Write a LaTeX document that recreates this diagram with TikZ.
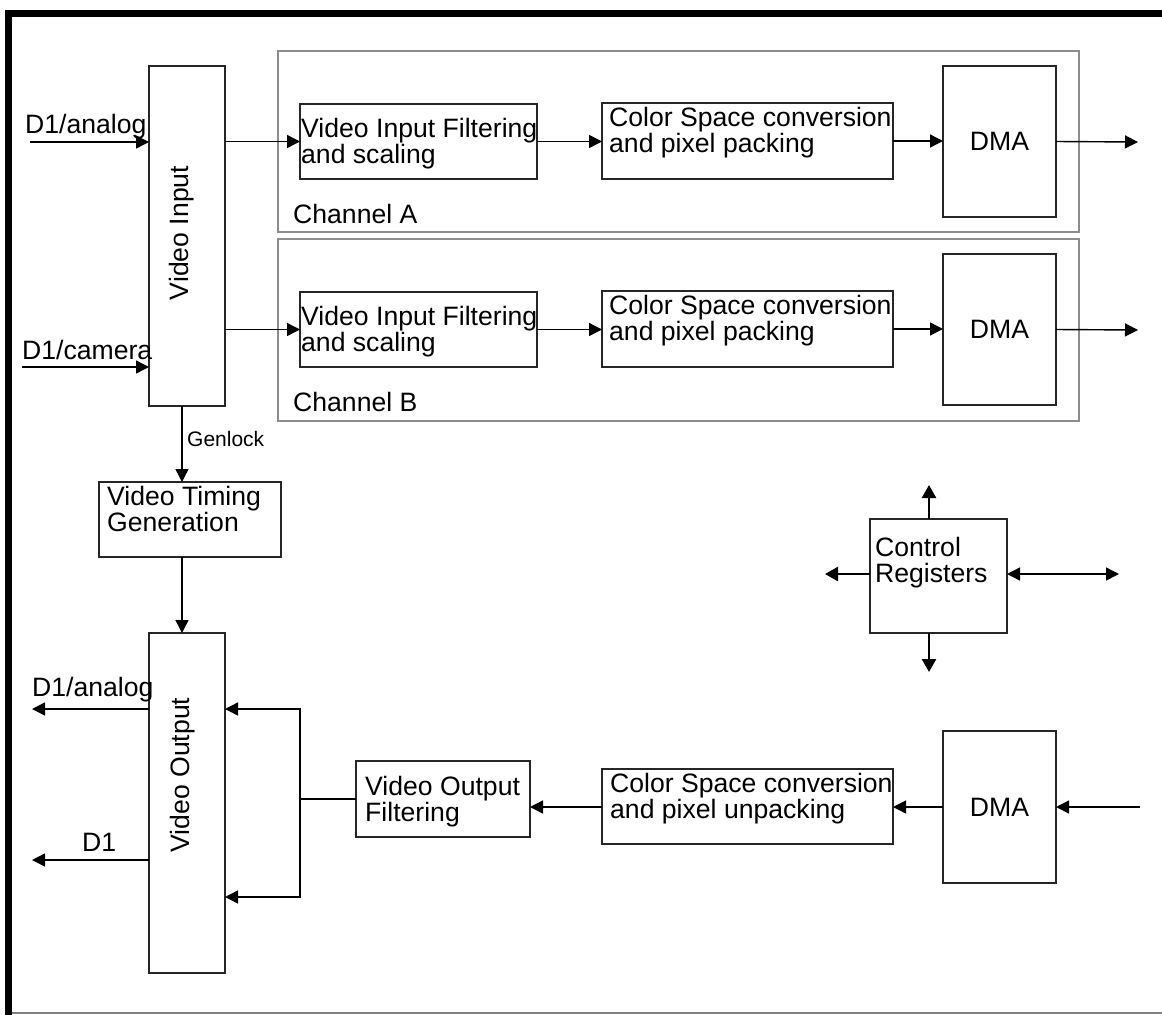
\documentclass[tikz,border=0pt]{standalone}
\usepackage{fontspec}
\setmainfont{Liberation Sans}
\usetikzlibrary{arrows.meta,calc}
\begin{document}
\begin{tikzpicture}[x=1pt,y=-1pt,
  font=\fontsize{26.6}{26.5}\selectfont,
  box/.style={draw=black!85,line width=1.4pt,anchor=north west,inner sep=0pt,outer sep=0pt},
  chan/.style={draw=black!45,line width=1.4pt},
  txt/.style={anchor=north west,inner sep=0pt,align=left},
  lbl/.style={anchor=base west,inner sep=0pt},
  conn/.style={line width=1.4pt,-{Triangle[length=13pt,width=13pt]}},
  plain/.style={line width=1.4pt},
  bold/.style={line width=2.6pt,-{Triangle[length=13pt,width=14pt]}},
  dbl/.style={line width=1.4pt,{Triangle[length=13pt,width=13pt]}-{Triangle[length=13pt,width=13pt]}}
]
\useasboundingbox (0,0) rectangle (1162,1015);
% frame
\draw[line width=7.5pt,line join=miter] (8.5,1015) -- (8.5,13.5) -- (1162,13.5);
\draw[black!50,line width=1.5pt] (12,1013) -- (1162,1013);

% channel frames
\draw[chan] (278,51) rectangle (1079,232);
\draw[chan] (278,239) rectangle (1079,421);

% video input
\node[box,minimum width=76pt,minimum height=340pt] (vin) at (149,66) {};
\node[rotate=90,anchor=base,inner sep=0pt] (vint) at (188,233) {Video Input};

% channel A
\node[box,minimum width=237pt,minimum height=75pt] (fa) at (300,104) {};
\node[txt] (fat) at (301,118) {Video Input Filtering\\and scaling};
\node[box,minimum width=291pt,minimum height=76pt] (ca) at (602,103) {};
\node[txt] (cat) at (609,107) {Color Space conversion\\and pixel packing};
\node[box,minimum width=113pt,minimum height=151pt] (dA) at (943,66) {DMA};
\node[lbl] (chA) at (293,223) {Channel A};

% channel B
\node[box,minimum width=237pt,minimum height=75pt] (fb) at (300,292) {};
\node[txt] (fbt) at (301,306) {Video Input Filtering\\and scaling};
\node[box,minimum width=291pt,minimum height=76pt] (cb) at (602,291) {};
\node[txt] (cbt) at (609,295) {Color Space conversion\\and pixel packing};
\node[box,minimum width=113pt,minimum height=151pt] (dB) at (943,254) {DMA};
\node[lbl] (chB) at (293,411) {Channel B};

% timing
\node[box,minimum width=182pt,minimum height=75pt] (vt) at (99,482) {};
\node[txt] (vtt) at (107,486) {Video Timing\\Generation};

% video output
\node[box,minimum width=76pt,minimum height=340pt] (vout) at (149,633) {};
\node[rotate=90,anchor=base,inner sep=0pt] (voutt) at (189,775) {Video Output};

\node[box,minimum width=174pt,minimum height=76pt] (vof) at (356,761) {};
\node[txt] (voft) at (365,776) {Video Output\\Filtering};
\node[box,minimum width=291pt,minimum height=75pt] (csu) at (602,769) {};
\node[txt] (csut) at (610,773) {Color Space conversion\\and pixel unpacking};
\node[box,minimum width=113pt,minimum height=152pt] (dC) at (943,731) {DMA};

% control registers
\node[box,minimum width=137pt,minimum height=114pt] (cr) at (870,519) {};
\node[txt] (crt) at (875,537) {Control\\Registers};

% labels
\node[lbl] (l1) at (25,133) {D1/analog};
\node[lbl] (l2) at (22,359) {D1/camera};
\node[lbl] (l3) at (32,696) {D1/analog};
\node[lbl] (l4) at (82,851) {D1};
\node[lbl,font=\fontsize{21}{21}\selectfont] (lg) at (187,446) {Genlock};

% free ends
\coordinate (inA) at (30,142);
\coordinate (inB) at (22,367);
\coordinate (outA) at (1138,142);
\coordinate (outB) at (1138,330);
\coordinate (oa) at (32,709);
\coordinate (od) at (32,860);
\coordinate (bt) at (300,709);
\coordinate (bb) at (300,897);
\coordinate (inC) at (1140,807);
\coordinate (crU) at (929,485);
\coordinate (crD) at (929,672);
\coordinate (crL) at (825,574);
\coordinate (crR) at (1119,574);

% connectors
\draw[conn] (inA) -- (inA -| vin.west);
\draw[conn] (inB) -- (inB -| vin.west);
\draw[conn] (vin.east |- fa.west) -- (fa.west);
\draw[conn] (fa.east) -- (fa.east -| ca.west);
\draw[conn] (ca.east) -- (ca.east -| dA.west);
\draw[conn] (dA.east) -- (outA);
\draw[conn] (vin.east |- fb.west) -- (fb.west);
\draw[conn] (fb.east) -- (fb.east -| cb.west);
\draw[conn] (cb.east) -- (cb.east -| dB.west);
\draw[conn] (dB.east) -- (outB);
\draw[conn] ([xshift=-5pt]vin.south) -- ([xshift=-5pt]vin.south |- vt.north);
\draw[conn] ([xshift=-5pt]vout.north |- vt.south) -- ([xshift=-5pt]vout.north);
\draw[conn] (oa -| vout.west) -- (oa);
\draw[conn] (od -| vout.west) -- (od);
\draw[plain] (vof.west) -- (bt |- vof.west);
\draw[conn] (bt |- vof.west) -- (bt) -- (bt -| vout.east);
\draw[conn] (bb |- vof.west) -- (bb) -- (bb -| vout.east);
\draw[conn] (csu.west |- dC.west) -- (dC.west -| vof.east);
\draw[conn] (dC.west) -- (dC.west -| csu.east);
\draw[conn] (inC) -- (inC -| dC.east);
\draw[bold] (crU |- cr.north) -- (crU);
\draw[bold] (crD |- cr.south) -- (crD);
\draw[bold] (crL -| cr.west) -- (crL);
\draw[dbl] (crR -| cr.east) -- (crR);
\end{tikzpicture}
\end{document}
